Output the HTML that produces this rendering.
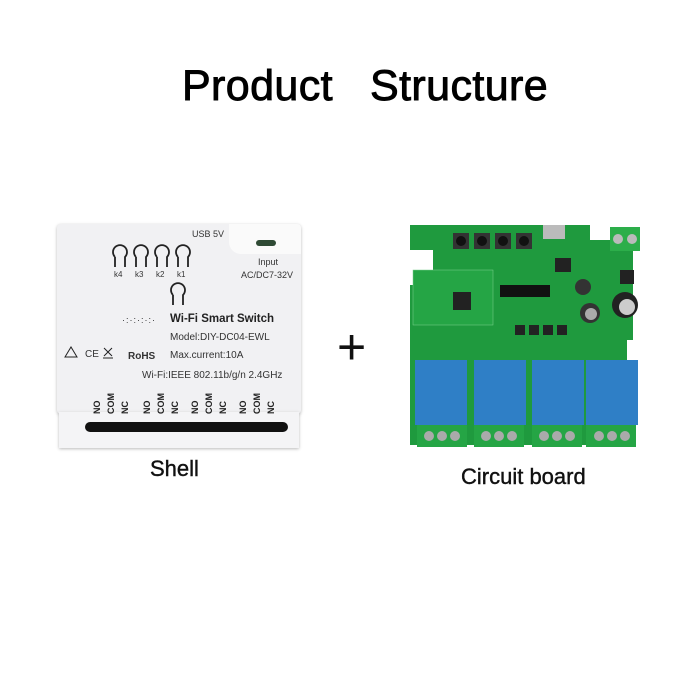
<!DOCTYPE html>
<html><head><style>
body{margin:0;width:700px;height:700px;background:#fff;position:relative;overflow:hidden;font-family:"Liberation Sans",sans-serif}
.a{position:absolute}
.t{white-space:nowrap}
</style></head><body>
<div class="a t" style="left:0;width:700px;top:62px;text-align:center;font-size:43px;color:#000;padding-left:30px;box-sizing:border-box;-webkit-text-stroke:0.9px #000;letter-spacing:0.4px">Product&nbsp;&nbsp;&nbsp;Structure</div>

<!-- Shell -->
<div class="a" style="left:57px;top:224px;width:244px;height:190px;background:#f1f1f3;border-radius:4px;box-shadow:0 1px 3px #bbb"></div>
<div class="a" style="left:229px;top:224px;width:72px;height:30px;background:#fafafa;border-radius:0 4px 0 12px"></div>
<div class="a" style="left:256px;top:240px;width:20px;height:6px;background:#2f4a35;border-radius:3px"></div>
<div class="a" style="left:59px;top:412px;width:240px;height:36px;background:#f4f4f6;box-shadow:0 1px 3px #bbb"></div>
<div class="a" style="left:85px;top:422px;width:203px;height:10px;background:#111;border-radius:5px"></div>
<svg class="a" style="left:57px;top:224px" width="244" height="190">
<g fill="none" stroke="#222" stroke-width="1.8">
<path d="M58 33 a7 7 0 1 1 10 0 v10 M58 33 v10"/><path d="M79 33 a7 7 0 1 1 10 0 v10 M79 33 v10"/><path d="M100 33 a7 7 0 1 1 10 0 v10 M100 33 v10"/><path d="M121 33 a7 7 0 1 1 10 0 v10 M121 33 v10"/><path d="M116 71 a7 7 0 1 1 10 0 v10 M116 71 v10"/>
<path d="M8 133 l6 -10 l6 10 z" stroke-width="1"/>
<path d="M47 124 l8 8 M55 124 l-8 8 M46 134 h10" stroke-width="1"/>
</g>
<g font-size="9" fill="#333">
<text x="135" y="13">USB 5V</text><text x="201" y="41">Input</text><text x="184" y="54">AC/DC7-32V</text>
<text x="57" y="53" font-size="8">k4</text><text x="78" y="53" font-size="8">k3</text><text x="99" y="53" font-size="8">k2</text><text x="120" y="53" font-size="8">k1</text>
<text x="113" y="98" font-size="11.5" font-weight="bold" fill="#222">Wi-Fi Smart Switch</text>
<text x="113" y="116" font-size="10">Model:DIY-DC04-EWL</text>
<text x="113" y="134" font-size="10">Max.current:10A</text>
<text x="28" y="133" font-size="10">CE</text><text x="71" y="135" font-size="10" font-weight="bold">RoHS</text>
<text x="85" y="154" font-size="10">Wi-Fi:IEEE 802.11b/g/n 2.4GHz</text>
<text x="65" y="99" font-size="9" letter-spacing="1">·:·:·:·:·</text>
</g>
<g font-size="9" fill="#222" font-weight="bold">
<text transform="translate(43,190) rotate(-90)">NO</text><text transform="translate(57,190) rotate(-90)">COM</text><text transform="translate(71,190) rotate(-90)">NC</text>
<text transform="translate(93,190) rotate(-90)">NO</text><text transform="translate(107,190) rotate(-90)">COM</text><text transform="translate(121,190) rotate(-90)">NC</text>
<text transform="translate(141,190) rotate(-90)">NO</text><text transform="translate(155,190) rotate(-90)">COM</text><text transform="translate(169,190) rotate(-90)">NC</text>
<text transform="translate(189,190) rotate(-90)">NO</text><text transform="translate(203,190) rotate(-90)">COM</text><text transform="translate(217,190) rotate(-90)">NC</text>
</g>
</svg>
<div class="a t" style="left:150px;top:456px;font-size:22px;color:#111;-webkit-text-stroke:0.4px #111">Shell</div>

<div class="a t" style="left:337px;top:322px;font-size:50px;color:#111;line-height:50px">+</div>

<!-- Board -->
<svg class="a" style="left:405px;top:215px" width="240" height="240">
<path d="M5 10 H185 V25 H228 V125 H222 V230 H5 V95 H5 V70 H28 V35 H5 Z" fill="#1f9a3e"/>
<rect x="8" y="55" width="80" height="55" fill="#25a545" stroke="#7fd08f" stroke-width="0.5"/>
<rect x="48" y="77" width="18" height="18" fill="#222"/>
<rect x="95" y="70" width="50" height="12" fill="#111"/>
<g fill="#333"><rect x="48" y="18" width="16" height="16"/><rect x="69" y="18" width="16" height="16"/><rect x="90" y="18" width="16" height="16"/><rect x="111" y="18" width="16" height="16"/></g>
<g fill="#111"><circle cx="56" cy="26" r="5"/><circle cx="77" cy="26" r="5"/><circle cx="98" cy="26" r="5"/><circle cx="119" cy="26" r="5"/></g>
<rect x="138" y="10" width="22" height="14" fill="#bbb"/>
<rect x="205" y="12" width="30" height="24" fill="#2cae4a"/>
<circle cx="213" cy="24" r="5" fill="#bbb"/><circle cx="227" cy="24" r="5" fill="#bbb"/>
<circle cx="220" cy="90" r="13" fill="#222"/><circle cx="222" cy="92" r="8" fill="#ccc"/>
<circle cx="185" cy="98" r="10" fill="#333"/><circle cx="186" cy="99" r="6" fill="#aaa"/>
<circle cx="178" cy="72" r="8" fill="#333"/>
<rect x="150" y="43" width="16" height="14" fill="#222"/><rect x="215" y="55" width="14" height="14" fill="#222"/>
<g fill="#222"><rect x="110" y="110" width="10" height="10"/><rect x="124" y="110" width="10" height="10"/><rect x="138" y="110" width="10" height="10"/><rect x="152" y="110" width="10" height="10"/></g>
<g fill="#2f7fc6">
<rect x="10" y="145" width="52" height="65"/><rect x="69" y="145" width="52" height="65"/><rect x="127" y="145" width="52" height="65"/><rect x="181" y="145" width="52" height="65"/>
</g>
<g fill="#25a545">
<rect x="12" y="210" width="50" height="22"/><rect x="69" y="210" width="50" height="22"/><rect x="127" y="210" width="50" height="22"/><rect x="181" y="210" width="50" height="22"/>
</g>
<g fill="#aaa">
<circle cx="24" cy="221" r="5"/><circle cx="37" cy="221" r="5"/><circle cx="50" cy="221" r="5"/>
<circle cx="81" cy="221" r="5"/><circle cx="94" cy="221" r="5"/><circle cx="107" cy="221" r="5"/>
<circle cx="139" cy="221" r="5"/><circle cx="152" cy="221" r="5"/><circle cx="165" cy="221" r="5"/>
<circle cx="194" cy="221" r="5"/><circle cx="207" cy="221" r="5"/><circle cx="220" cy="221" r="5"/>
</g>
</svg>
<div class="a t" style="left:461px;top:464px;font-size:22px;color:#111;-webkit-text-stroke:0.4px #111">Circuit board</div>
</body></html>
